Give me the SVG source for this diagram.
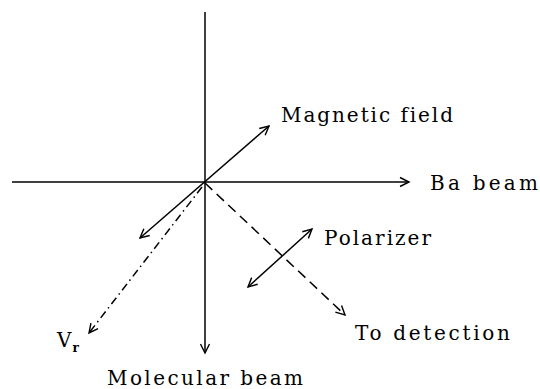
<svg xmlns="http://www.w3.org/2000/svg" width="540" height="389" viewBox="0 0 540 389">
<style>
.ln{stroke:#000;stroke-width:1.5;fill:none}
.dash{stroke-dasharray:10 6}
.dd{stroke-dasharray:8 4 1.5 4}
.t{font-family:"DejaVu Serif","Liberation Serif",serif;font-size:20px;fill:#000;font-variant-ligatures:none}
.s{font-family:"DejaVu Serif","Liberation Serif",serif;font-size:12px;font-weight:bold;fill:#000}
</style>
<defs>
<marker id="ah" viewBox="-10 -6 12 12" refX="0" refY="0" markerWidth="12" markerHeight="12" markerUnits="userSpaceOnUse" orient="auto-start-reverse">
<path d="M-9,-4.5 L0,0 L-9,4.5" fill="none" stroke="#000" stroke-width="1.4"/>
</marker>
</defs>
<rect width="540" height="389" fill="#fff"/>
<g id="connectors">
<line class="ln" x1="205" y1="12" x2="205" y2="353" marker-end="url(#ah)"/>
<line class="ln" x1="12" y1="182" x2="409" y2="182" marker-end="url(#ah)"/>
<line class="ln" x1="140" y1="238" x2="269" y2="126" marker-start="url(#ah)" marker-end="url(#ah)"/>
<line class="ln dd" x1="202" y1="187" x2="89" y2="333" marker-end="url(#ah)"/>
<line class="ln dash" x1="205" y1="183" x2="345" y2="315" marker-end="url(#ah)"/>
<line class="ln" x1="248" y1="287" x2="312" y2="229" marker-start="url(#ah)" marker-end="url(#ah)"/>
</g>
<g id="magnetic-field"><text class="t" x="281" y="122" textLength="172" lengthAdjust="spacing">Magnetic field</text></g>
<g id="ba-beam"><text class="t" x="430" y="190" textLength="108" lengthAdjust="spacing">Ba beam</text></g>
<g id="polarizer"><text class="t" x="324" y="245" textLength="107" lengthAdjust="spacing">Polarizer</text></g>
<g id="to-detection"><text class="t" x="355" y="340" textLength="155" lengthAdjust="spacing">To detection</text></g>
<g id="molecular-beam"><text class="t" x="107" y="385" textLength="196" lengthAdjust="spacing">Molecular beam</text></g>
<g id="vr"><text class="t" x="57" y="347">V<tspan class="s" dx="1" dy="5">r</tspan></text></g>
</svg>
